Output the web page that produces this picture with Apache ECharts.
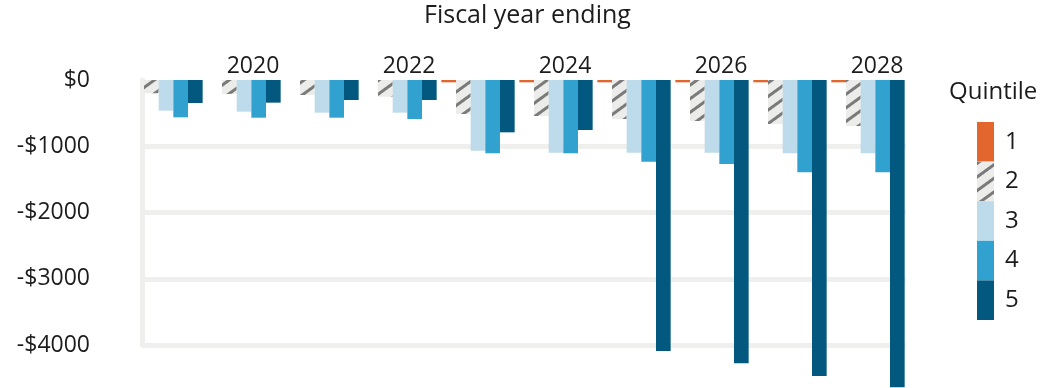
<!DOCTYPE html>
<html>
<head>
<meta charset="utf-8">
<script src="https://cdn.jsdelivr.net/npm/echarts@6/dist/echarts.min.js"></script>
<style>
  html, body { margin: 0; padding: 0; background: #ffffff; }
  #chart { width: 1040px; height: 388px; }
</style>
</head>
<body>
<div id="chart"></div>
<script>
// Fiscal years on the category axis
const years = ['2019', '2020', '2021', '2022', '2023', '2024', '2025', '2026', '2027', '2028'];

// Change per quintile, dollars
const quintile1 = [0, 0, 0, 0, -35, -35, -35, -35, -35, -35];
const quintile2 = [-200, -210, -226, -252, -513, -543, -589, -619, -664, -694];
const quintile3 = [-463, -478, -493, -493, -1067, -1097, -1097, -1097, -1107, -1107];
const quintile4 = [-563, -569, -569, -589, -1107, -1107, -1233, -1268, -1394, -1394];
const quintile5 = [-347, -342, -302, -302, -790, -755, -4091, -4277, -4468, -4638];

const quintileNames = ['1', '2', '3', '4', '5'];

const FONT = '"Open Sans", "DejaVu Sans", sans-serif';
const TEXT = '#1c1c1c';
const GRID_GREY = '#efefed';

const chart = echarts.init(document.getElementById('chart'), null, { renderer: 'canvas' });

function barSeries(name, data, style) {
  return {
    name: name,
    type: 'bar',
    xAxisIndex: 0,
    yAxisIndex: 0,
    data: data,
    barGap: '0%',
    barCategoryGap: '6%',
    clip: false,
    itemStyle: style,
    emphasis: { disabled: true }
  };
}

const option = {
  backgroundColor: '#ffffff',
  animation: false,
  textStyle: { fontFamily: FONT },
  title: [
    {
      text: 'Fiscal year ending',
      left: 424,
      top: 3,
      padding: 0,
      textStyle: { fontFamily: FONT, fontSize: 25, fontWeight: 'normal', color: TEXT }
    },
    {
      text: 'Quintile',
      left: 949,
      top: 80,
      padding: 0,
      textStyle: { fontFamily: FONT, fontSize: 24, fontWeight: 'normal', color: TEXT }
    }
  ],
  legend: {
    data: quintileNames,
    orient: 'vertical',
    left: 977,
    top: 122,
    padding: 0,
    itemWidth: 17,
    itemHeight: 39.6,
    itemGap: 0,
    icon: 'rect',
    selectedMode: false,
    textStyle: { fontFamily: FONT, fontSize: 24, color: TEXT, padding: [0, 0, 0, 6] }
  },
  grid: [
    // plotting area for the bars
    { left: 127, right: 133, top: 80, bottom: 43, containLabel: false },
    // value axis and gridlines
    { left: 142, right: 134, top: 80, bottom: 43, containLabel: false }
  ],
  xAxis: [
    {
      gridIndex: 0,
      type: 'category',
      data: years,
      position: 'top',
      boundaryGap: true,
      axisLine: { show: false },
      axisTick: { show: false },
      splitLine: { show: false },
      axisLabel: {
        interval: function (index) { return index % 2 === 1; },
        margin: 2,
        fontFamily: FONT,
        fontSize: 23,
        color: TEXT,
        padding: [0, 0, 0, 18]
      }
    },
    {
      gridIndex: 1,
      type: 'value',
      show: false,
      min: 0,
      max: 1
    }
  ],
  yAxis: [
    {
      gridIndex: 0,
      type: 'value',
      min: -4000,
      max: 0,
      interval: 1000,
      show: false
    },
    {
      gridIndex: 1,
      type: 'value',
      min: -4000,
      max: 0,
      interval: 1000,
      axisLine: { show: true, lineStyle: { color: GRID_GREY, width: 5 } },
      axisTick: { show: false },
      splitLine: {
        show: true,
        lineStyle: { color: [GRID_GREY, GRID_GREY, GRID_GREY, GRID_GREY, 'rgba(0,0,0,0)'], width: 5 }
      },
      axisLabel: {
        margin: 52,
        fontFamily: FONT,
        fontSize: 23,
        color: TEXT,
        padding: [5, 0, 0, 0],
        formatter: function (v) { return v === 0 ? '$0' : '-$' + Math.abs(v); }
      }
    }
  ],
  series: [
    barSeries(quintileNames[0], quintile1, { color: '#e2672e' }),
    barSeries(quintileNames[1], quintile2, {
      color: '#ececea',
      decal: {
        symbol: 'rect',
        symbolSize: 1,
        dashArrayX: [1, 0],
        dashArrayY: [3, 8],
        rotation: -Math.PI / 5,
        color: '#7a7a7a'
      }
    }),
    barSeries(quintileNames[2], quintile3, { color: '#bddbea' }),
    barSeries(quintileNames[3], quintile4, { color: '#31a2d0' }),
    barSeries(quintileNames[4], quintile5, { color: '#03587f' })
  ]
};

chart.setOption(option);
</script>
</body>
</html>
